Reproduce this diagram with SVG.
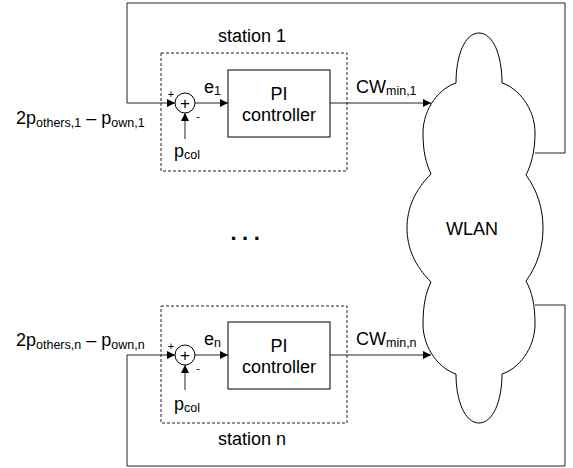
<svg xmlns="http://www.w3.org/2000/svg" width="573" height="468" viewBox="0 0 573 468">
<style>
text{font-family:"Liberation Sans",Arial,sans-serif;fill:#000}
.t{font-size:18px}
.sub{font-size:12.5px}
.sm{font-size:11px}
.ln{fill:none;stroke:#222;stroke-width:1}
.box{fill:#fff;stroke:#000;stroke-width:1}
.dash{fill:none;stroke:#222;stroke-width:1;stroke-dasharray:3,2}
</style>
<defs>
<marker id="ah" viewBox="0 0 10 10" refX="10" refY="5" markerWidth="9" markerHeight="8" markerUnits="userSpaceOnUse" orient="auto">
<path d="M0,0 L10,5 L0,10 Z" fill="#000"/>
</marker>
</defs>
<g id="connectors">
<polyline class="ln" points="535,153 565,153 565,3 127,3 127,103 175,103" marker-end="url(#ah)"/>
<polyline class="ln" points="535,305 565,305 565,466 127,466 127,355 175,355" marker-end="url(#ah)"/>
<line class="ln" x1="195" y1="103" x2="228" y2="103" marker-end="url(#ah)"/>
<line class="ln" x1="195" y1="355" x2="228" y2="355" marker-end="url(#ah)"/>
<line class="ln" x1="185" y1="139" x2="185" y2="113" marker-end="url(#ah)"/>
<line class="ln" x1="185" y1="390" x2="185" y2="365" marker-end="url(#ah)"/>
<line class="ln" x1="330" y1="103" x2="431" y2="103" marker-end="url(#ah)"/>
<line class="ln" x1="330" y1="355" x2="431" y2="355" marker-end="url(#ah)"/>
</g>
<g id="station1">
<rect class="dash" x="161" y="53" width="186" height="118"/>
<text class="t" x="252" y="42" text-anchor="middle">station 1</text>
</g>
<g id="stationn">
<rect class="dash" x="161" y="306" width="186" height="117"/>
<text class="t" x="252" y="445" text-anchor="middle">station n</text>
</g>
<g id="sum1">
<circle class="box" cx="185" cy="103" r="10"/>
<text class="t" x="185" y="109" text-anchor="middle" style="font-size:17px">+</text>
<text class="sm" x="171" y="98" text-anchor="middle">+</text>
<text class="sm" x="198" y="120" text-anchor="middle">-</text>
</g>
<g id="sumn">
<circle class="box" cx="185" cy="355" r="10"/>
<text class="t" x="185" y="361" text-anchor="middle" style="font-size:17px">+</text>
<text class="sm" x="171" y="350" text-anchor="middle">+</text>
<text class="sm" x="198" y="372" text-anchor="middle">-</text>
</g>
<g id="pi1">
<rect class="box" x="228" y="70" width="102" height="67"/>
<text class="t" x="279" y="100" text-anchor="middle">PI</text>
<text class="t" x="279" y="121" text-anchor="middle">controller</text>
</g>
<g id="pin">
<rect class="box" x="228" y="322" width="102" height="67"/>
<text class="t" x="279" y="352" text-anchor="middle">PI</text>
<text class="t" x="279" y="373" text-anchor="middle">controller</text>
</g>
<g id="wlan">
<path class="box" d="M456,83 C456,55 465,33 479,33 C493,33 502,55 502,83 C518,88 535,108 535,133 C535,152 531,165 526,175 C537,190 543,208 543,228 C543,248 537,266 526,281 C532,292 535,305 535,324 C535,349 518,369 502,374 C502,401 493,423 479,423 C465,423 456,401 456,374 C440,369 423,349 423,324 C423,305 426,292 431,282 C415,266 407,248 407,228 C407,208 415,190 431,174 C426,163 423,152 423,133 C423,108 440,88 456,83 Z"/>
<text class="t" x="472" y="235" text-anchor="middle">WLAN</text>
</g>
<g id="labels">
<text class="t" x="16" y="124">2p<tspan class="sub" dy="3">others,1</tspan><tspan dy="-3"> – p</tspan><tspan class="sub" dy="3">own,1</tspan></text>
<text class="t" x="16" y="346">2p<tspan class="sub" dy="3">others,n</tspan><tspan dy="-3"> – p</tspan><tspan class="sub" dy="3">own,n</tspan></text>
<text class="t" x="174" y="157">p<tspan class="sub" dy="2">col</tspan></text>
<text class="t" x="174" y="410">p<tspan class="sub" dy="2">col</tspan></text>
<text class="t" x="204" y="93">e<tspan class="sub" dy="2">1</tspan></text>
<text class="t" x="204" y="345">e<tspan class="sub" dy="2">n</tspan></text>
<text class="t" x="356" y="93">CW<tspan class="sub" dy="2">min,1</tspan></text>
<text class="t" x="356" y="345">CW<tspan class="sub" dy="2">min,n</tspan></text>
<text x="230.5" y="240" style="font-size:22px;font-weight:bold;letter-spacing:5.5px">...</text>
</g>
</svg>
